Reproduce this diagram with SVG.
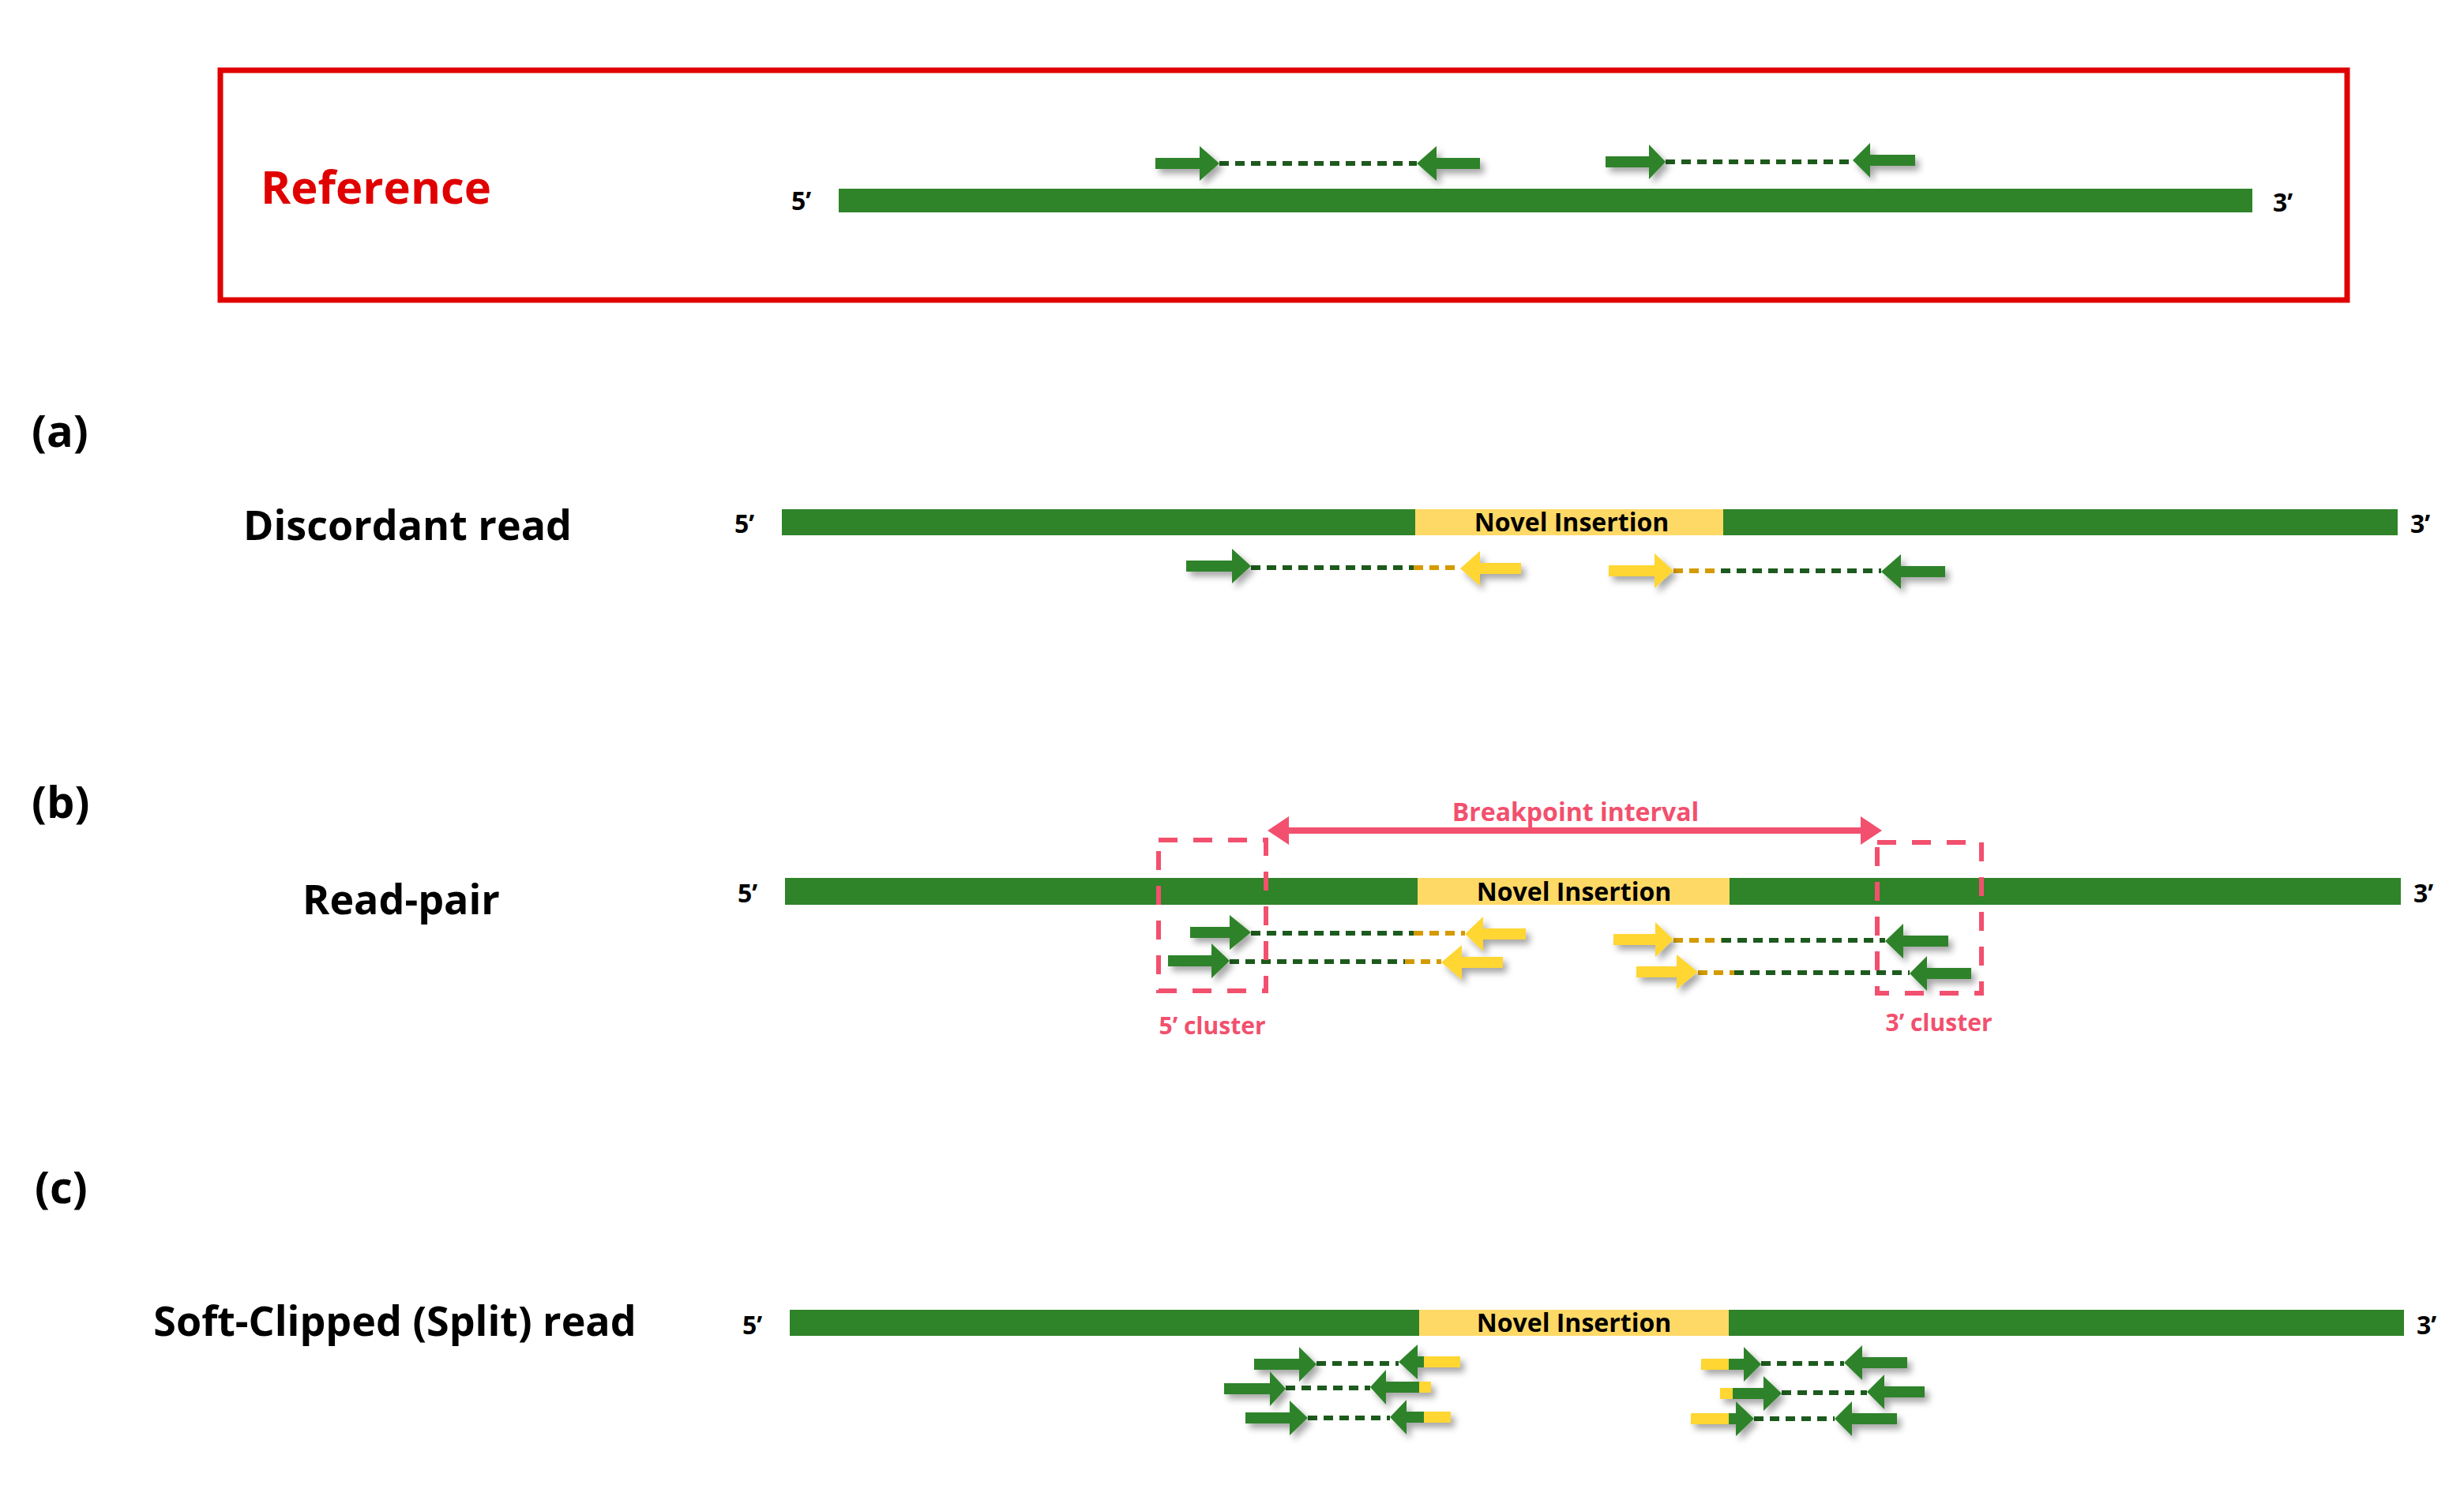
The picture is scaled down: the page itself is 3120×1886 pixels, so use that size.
<svg xmlns="http://www.w3.org/2000/svg" width="3120" height="1886" viewBox="0 0 3120 1886">
<style>
.t{font-family:"Open Sans","Liberation Sans",sans-serif;font-weight:bold}
.g{fill:#2f8329}
.y{fill:#ffd633}
.ins{fill:#ffd966}
.dg{stroke:#1d5a1d;stroke-width:6;stroke-dasharray:12 8;fill:none}
.do{stroke:#d49a00;stroke-width:6;stroke-dasharray:12 8;fill:none}
.pk{stroke:#f2506e;fill:none}
.rd{filter:url(#sh)}
</style>
<defs>
<filter id="sh" x="-20%" y="-50%" width="150%" height="200%"><feDropShadow dx="5" dy="6" stdDeviation="4" flood-color="#000" flood-opacity="0.35"/></filter>
</defs>
<rect width="3120" height="1886" fill="#fff"/>
<g id="reference">
<rect x="279" y="89" width="2693" height="291" fill="none" stroke="#e00000" stroke-width="7"/>
<text class="t" x="330" y="258" font-size="58" fill="#e00000">Reference</text>
<rect class="g" x="1062" y="239" width="1790" height="30"/>
<text class="t" x="1002" y="266" font-size="32">5’</text>
<text class="t" x="2878" y="268" font-size="32">3’</text>
</g>
<g id="a">
<text class="t" x="40" y="566" font-size="56">(a)</text>
<text class="t" x="516" y="684" font-size="52" text-anchor="middle">Discordant read</text>
<rect class="g" x="990" y="645" width="2046" height="33"/>
<rect class="ins" x="1792" y="645" width="390" height="33"/>
<text class="t" x="1990" y="673" font-size="32" text-anchor="middle">Novel Insertion</text>
<text class="t" x="930" y="675" font-size="32">5’</text>
<text class="t" x="3052" y="675" font-size="32">3’</text>
</g>
<g id="b">
<text class="t" x="40" y="1036" font-size="56">(b)</text>
<text class="t" x="508" y="1158" font-size="52" text-anchor="middle">Read-pair</text>
<rect class="g" x="994" y="1112" width="2046" height="34"/>
<rect class="ins" x="1795" y="1112" width="395" height="34"/>
<text class="t" x="1993" y="1141" font-size="32" text-anchor="middle">Novel Insertion</text>
<text class="t" x="934" y="1143" font-size="32">5’</text>
<text class="t" x="3056" y="1143" font-size="32">3’</text>
<text class="t" x="1995" y="1040" font-size="32" fill="#f2506e" text-anchor="middle">Breakpoint interval</text>
<text class="t" x="1535" y="1310" font-size="30" fill="#f2506e" text-anchor="middle">5’ cluster</text>
<text class="t" x="2455" y="1306" font-size="30" fill="#f2506e" text-anchor="middle">3’ cluster</text>
</g>
<g id="c">
<text class="t" x="44" y="1524" font-size="56">(c)</text>
<text class="t" x="500" y="1692" font-size="52" text-anchor="middle">Soft-Clipped (Split) read</text>
<rect class="g" x="1000" y="1659" width="2044" height="33"/>
<rect class="ins" x="1797" y="1659" width="392" height="33"/>
<text class="t" x="1993" y="1687" font-size="32" text-anchor="middle">Novel Insertion</text>
<text class="t" x="940" y="1690" font-size="32">5’</text>
<text class="t" x="3060" y="1690" font-size="32">3’</text>
</g>
<g id="connectors">
<!-- reference reads -->
<path class="dg" d="M1544 207H1794"/>
<path class="dg" d="M2109 205H2346"/>
<g class="rd">
<path class="g" d="M1463 200H1519V185L1544 207L1519 229V214H1463Z"/>
<path class="g" d="M1874 200H1819V185L1794 207L1819 229V214H1874Z"/>
<path class="g" d="M2033 198H2088V183L2109 205L2088 227V212H2033Z"/>
<path class="g" d="M2425 196H2368V181L2346 203L2368 225V210H2425Z"/>
</g>
<!-- (a) reads -->
<path class="dg" d="M1584 719H1790"/><path class="do" d="M1790 719H1849"/>
<path class="do" d="M2119 723H2179"/><path class="dg" d="M2179 723H2382"/>
<g class="rd">
<path class="g" d="M1502 710H1560V695L1584 717L1560 739V724H1502Z"/>
<path class="y" d="M1926 713H1874V698L1849 720L1874 742V727H1926Z"/>
<path class="y" d="M2037 716H2095V701L2119 723L2095 745V730H2037Z"/>
<path class="g" d="M2463 717H2407V702L2382 724L2407 746V731H2463Z"/>
</g>
<!-- (b) reads -->
<path class="dg" d="M1584 1182H1790"/><path class="do" d="M1790 1182H1855"/>
<path class="dg" d="M1557 1218H1779"/><path class="do" d="M1779 1218H1825"/>
<path class="do" d="M2119 1191H2180"/><path class="dg" d="M2180 1191H2387"/>
<path class="do" d="M2150 1232H2196"/><path class="dg" d="M2196 1232H2418"/>
<g class="rd">
<path class="g" d="M1507 1174H1557V1159L1584 1181L1557 1203V1188H1507Z"/>
<path class="y" d="M1932 1176H1878V1161L1855 1183L1878 1205V1190H1932Z"/>
<path class="g" d="M1479 1210H1534V1195L1557 1217L1534 1239V1224H1479Z"/>
<path class="y" d="M1903 1212H1851V1197L1825 1219L1851 1241V1226H1903Z"/>
<path class="y" d="M2043 1183H2096V1168L2119 1190L2096 1212V1197H2043Z"/>
<path class="g" d="M2467 1185H2410V1170L2387 1192L2410 1214V1199H2467Z"/>
<path class="y" d="M2072 1224H2123V1209L2150 1231L2123 1253V1238H2072Z"/>
<path class="g" d="M2496 1226H2440V1211L2418 1233L2440 1255V1240H2496Z"/>
</g>
<path class="pk" stroke-width="8" d="M1625 1052H2363"/>
<path fill="#f2506e" d="M1605 1052L1632 1034V1070Z M2383 1052L2356 1034V1070Z"/>
<rect class="pk" x="1467" y="1064" width="136" height="191" stroke-width="6" stroke-dasharray="24 20"/>
<rect class="pk" x="2377" y="1067" width="132" height="191" stroke-width="6" stroke-dasharray="24 20"/>
<!-- (c) reads -->
<path class="dg" d="M1667 1727H1771"/>
<path class="dg" d="M1628 1758H1735"/>
<path class="dg" d="M1656 1796H1760"/>
<path class="dg" d="M2230 1727H2335"/>
<path class="dg" d="M2256 1764H2364"/>
<path class="dg" d="M2221 1797H2323"/>
<g class="rd">
<path class="g" d="M1588 1721H1645V1706L1667 1728L1645 1750V1735H1588Z"/>
<rect class="y" x="1803" y="1718" width="46" height="14"/>
<path class="g" d="M1803 1718H1795V1703L1771 1725L1795 1747V1732H1803Z"/>
<path class="g" d="M1550 1752H1608V1737L1628 1759L1608 1781V1766H1550Z"/>
<rect class="y" x="1797" y="1750" width="15" height="14"/>
<path class="g" d="M1797 1750H1755V1735L1735 1757L1755 1779V1764H1797Z"/>
<path class="g" d="M1577 1789H1633V1774L1656 1796L1633 1818V1803H1577Z"/>
<rect class="y" x="1803" y="1788" width="34" height="14"/>
<path class="g" d="M1803 1788H1781V1773L1760 1795L1781 1817V1802H1803Z"/>
<rect class="y" x="2154" y="1721" width="35" height="14"/>
<path class="g" d="M2189 1721H2208V1706L2230 1728L2208 1750V1735H2189Z"/>
<path class="g" d="M2415 1719H2358V1704L2335 1726L2358 1748V1733H2415Z"/>
<rect class="y" x="2178" y="1758" width="16" height="14"/>
<path class="g" d="M2194 1758H2233V1743L2256 1765L2233 1787V1772H2194Z"/>
<path class="g" d="M2437 1756H2386V1741L2364 1763L2386 1785V1770H2437Z"/>
<rect class="y" x="2141" y="1790" width="48" height="14"/>
<path class="g" d="M2189 1790H2198V1775L2221 1797L2198 1819V1804H2189Z"/>
<path class="g" d="M2402 1790H2345V1775L2323 1797L2345 1819V1804H2402Z"/>
</g>
</g>
</svg>
